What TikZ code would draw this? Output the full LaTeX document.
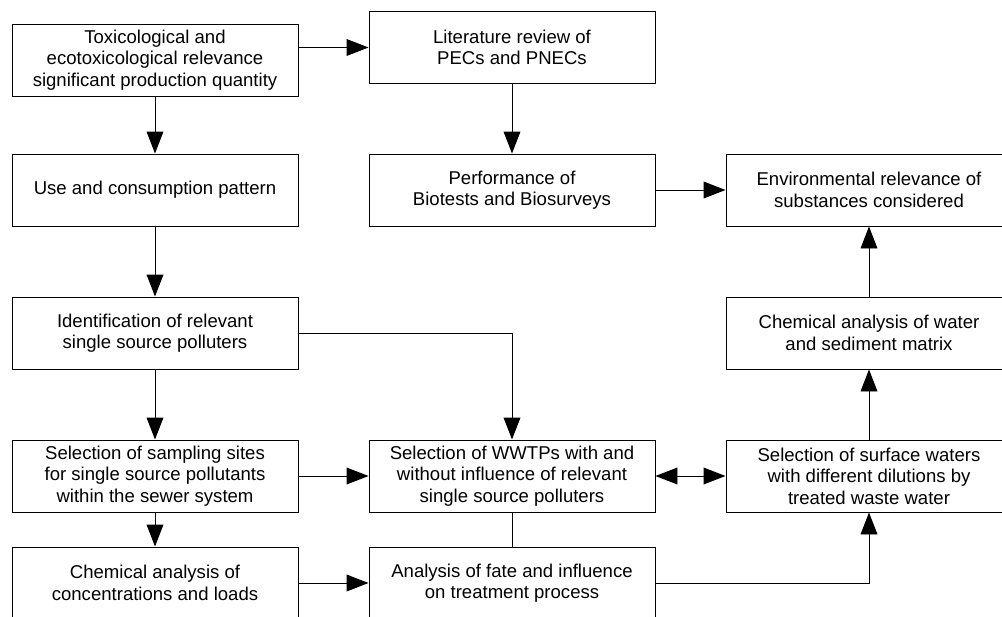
\documentclass[tikz,border=0pt]{standalone}
\usepackage{fontspec}
\setmainfont{Liberation Sans}
\usetikzlibrary{arrows.meta}

\begin{document}
\begin{tikzpicture}[
    box/.style={draw, line width=0.7pt, minimum width=7.15cm, minimum height=1.8cm, inner sep=2pt, font=\fontsize{13.2}{15.2}\selectfont, align=center},
    arrow/.style={-{Triangle[length=0.55cm, width=0.42cm]}, line width=0.7pt},
    twoway/.style={{Triangle[length=0.55cm, width=0.42cm]}-{Triangle[length=0.55cm, width=0.42cm]}, line width=0.7pt},
    link/.style={line width=0.7pt}
]
    \clip (0, 0) rectangle (25.05, 15.4);

    \node[box] (tox) at (3.875, 13.9) {Toxicological and\\ecotoxicological relevance\\significant production quantity};
    \node[box] (lit) at (12.8, 14.2125) {Literature review of\\PECs and PNECs};
    \node[box] (use) at (3.875, 10.65) {Use and consumption pattern};
    \node[box] (bio) at (12.8, 10.65) {Performance of\\Biotests and Biosurveys};
    \node[box] (env) at (21.725, 10.65) {Environmental relevance of\\substances considered};
    \node[box] (ident) at (3.875, 7.075) {Identification of relevant\\single source polluters};
    \node[box] (water) at (21.725, 7.075) {Chemical analysis of water\\and sediment matrix};
    \node[box] (sites) at (3.875, 3.5) {Selection of sampling sites\\for single source pollutants\\within the sewer system};
    \node[box] (wwtp) at (12.8, 3.5) {Selection of WWTPs with and\\without influence of relevant\\single source polluters};
    \node[box] (surf) at (21.725, 3.5) {Selection of surface waters\\with different dilutions by\\treated waste water};
    \node[box] (conc) at (3.875, 0.825) {Chemical analysis of\\concentrations and loads};
    \node[box] (fate) at (12.8, 0.825) {Analysis of fate and influence\\on treatment process};

    % left column
    \draw[arrow] (tox) -- (use);
    \draw[arrow] (use) -- (ident);
    \draw[arrow] (ident) -- (sites);
    \draw[arrow] (sites) -- (conc);

    % across
    \draw[arrow] (tox.east |- lit.west) -- (lit.west);
    \draw[arrow] (lit) -- (bio);
    \draw[arrow] (bio) -- (env);
    \draw[arrow] (ident.east) -| (wwtp.north);
    \draw[arrow] (sites) -- (wwtp);
    \draw[arrow] (conc) -- (fate);
    \draw[link] (wwtp) -- (fate);
    \draw[twoway] (wwtp) -- (surf);
    \draw[arrow] (fate.east) -| (surf.south);

    % right column
    \draw[arrow] (surf) -- (water);
    \draw[arrow] (water) -- (env);
\end{tikzpicture}
\end{document}
